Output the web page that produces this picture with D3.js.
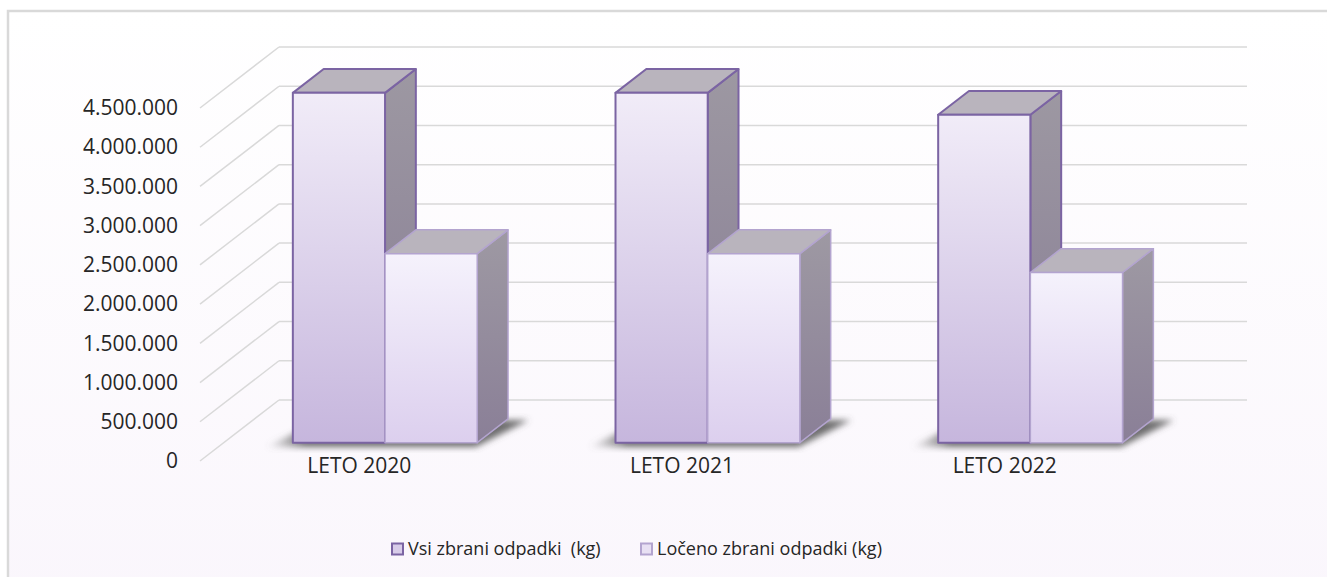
<!DOCTYPE html>
<html>
<head>
<meta charset="utf-8">
<script src="https://cdn.jsdelivr.net/npm/d3@7"></script>
<style>
  body { margin: 0; background: #fff; overflow: hidden; }
  svg { display: block; }
  svg text { font-family: "Open Sans", sans-serif; fill: #262626; }
</style>
</head>
<body>
<script>
// data
var categories = ["LETO 2020", "LETO 2021", "LETO 2022"];
var seriesNames = ["Vsi zbrani odpadki  (kg)", "Ločeno zbrani odpadki (kg)"];
var vsiValues = [4460000, 4460000, 4180000];
var locenoValues = [2410000, 2410000, 2170000];
var yTicks = [0, 500000, 1000000, 1500000, 2000000, 2500000, 3000000, 3500000, 4000000, 4500000];

var width = 1327, height = 577;

// oblique 3d: depth vector of the whole floor
var DX = 79, DY = -61;
var d0 = 0.3, d1 = 0.69; // bar depth inside the floor

var svg = d3.select("body").append("svg")
    .attr("width", width)
    .attr("height", height);

var defs = svg.append("defs");

function vGrad(id, top, bottom) {
  var g = defs.append("linearGradient").attr("id", id)
      .attr("x1", 0).attr("y1", 0).attr("x2", 0).attr("y2", 1);
  g.append("stop").attr("offset", 0).attr("stop-color", top);
  g.append("stop").attr("offset", 1).attr("stop-color", bottom);
}
vGrad("bg", "#ffffff", "#faf6fc");
vGrad("front0", "#f1ecf8", "#c6b6dd");
vGrad("front1", "#f5f2fc", "#dccfee");
vGrad("side0", "#9d98a2", "#867b94");
vGrad("side1", "#9e99a3", "#8a7f97");

var sg = defs.append("linearGradient").attr("id", "shadowGrad")
    .attr("x1", 0).attr("y1", 0).attr("x2", 1).attr("y2", 0);
sg.append("stop").attr("offset", 0).attr("stop-color", "#777").attr("stop-opacity", 0);
sg.append("stop").attr("offset", 0.15).attr("stop-color", "#555").attr("stop-opacity", 0.85);
sg.append("stop").attr("offset", 1).attr("stop-color", "#555").attr("stop-opacity", 0.85);

defs.append("filter").attr("id", "blur")
    .attr("x", "-20%").attr("y", "-20%").attr("width", "140%").attr("height", "140%")
  .append("feGaussianBlur").attr("stdDeviation", 3);

// chart area
svg.append("rect")
    .attr("x", 8).attr("y", 11)
    .attr("width", 1340).attr("height", 600)
    .attr("fill", "url(#bg)")
    .attr("stroke", "#d9d9d9")
    .attr("stroke-width", 2.5);

var yScale = d3.scaleLinear()
    .domain([0, 4500000])
    .range([461, 108]);

var xScale = d3.scaleBand()
    .domain(categories)
    .range([200, 1168]);

var inner = d3.scaleBand()
    .domain([0, 1])
    .range([0, xScale.bandwidth()])
    .paddingInner(0)
    .paddingOuter(0.75);

function P(x, v, d) {
  return [x + d * DX, yScale(v) + d * DY];
}

var line = d3.line();

// gridlines: side wall diagonals + back wall
var grid = svg.append("g").attr("stroke", "#d9d9d9").attr("stroke-width", 1.5).attr("fill", "none");
grid.selectAll(".diag")
    .data(yTicks)
    .enter().append("path")
    .attr("d", function(t) { return line([P(200, t, 0), P(200, t, 1)]); });
grid.selectAll(".back")
    .data(yTicks)
    .enter().append("path")
    .attr("d", function(t) { return line([P(200, t, 1), P(1168, t, 1)]); });

// y labels
var fmt = d3.formatLocale({ decimal: ",", thousands: ".", grouping: [3], currency: ["", ""] }).format(",");
var yAxis = d3.axisLeft(yScale)
    .tickValues(yTicks)
    .tickSize(0)
    .tickPadding(22)
    .tickFormat(fmt);
svg.append("g")
    .attr("transform", "translate(200,0)")
    .call(yAxis)
    .call(function(g) { g.select(".domain").remove(); })
    .selectAll("text")
    .style("font-family", "'Open Sans', sans-serif")
    .style("font-size", "21px")
    .attr("fill", "#262626");

// bars
var series = [vsiValues, locenoValues];
var strokes = ["#7b64a3", "#b3a4cf"];
var strokeW = [2, 1.5];

categories.forEach(function(cat, i) {
  var gx0 = xScale(cat) + inner(0);
  var gx1 = xScale(cat) + inner(1) + inner.bandwidth();

  // floor shadow
  svg.append("path")
      .attr("d", line([P(gx0 - 22, 0, d0 - 0.07), P(gx1 + 4, 0, d0 - 0.07),
                       P(gx1 + 22, 0, d1 - 0.02), P(gx0, 0, d1)]) + "Z")
      .attr("fill", "url(#shadowGrad)")
      .attr("filter", "url(#blur)");

  series.forEach(function(vals, j) {
    var v = vals[i];
    var x0 = xScale(cat) + inner(j);
    var x1 = x0 + inner.bandwidth();
    var g = svg.append("g")
        .attr("stroke", strokes[j])
        .attr("stroke-width", strokeW[j])
        .attr("stroke-linejoin", "round");
    g.append("path")
        .attr("d", line([P(x1, v, d0), P(x1, v, d1), P(x1, 0, d1), P(x1, 0, d0)]) + "Z")
        .attr("fill", "url(#side" + j + ")");
    g.append("path")
        .attr("d", line([P(x0, v, d0), P(x1, v, d0), P(x1, v, d1), P(x0, v, d1)]) + "Z")
        .attr("fill", "#b9b4bd");
    g.append("path")
        .attr("d", line([P(x0, v, d0), P(x1, v, d0), P(x1, 0, d0), P(x0, 0, d0)]) + "Z")
        .attr("fill", "url(#front" + j + ")");
  });
});

// category labels
svg.append("g")
    .selectAll("text")
    .data(categories)
    .enter().append("text")
    .attr("x", function(d) { return xScale(d) + xScale.bandwidth() / 2 - 2; })
    .attr("y", 466)
    .attr("dy", "0.35em")
    .attr("text-anchor", "middle")
    .style("font-size", "21px")
    .text(function(d) { return d; });

// legend
var legendX = [392, 641];
var legend = svg.append("g").attr("id", "legend");
var items = legend.selectAll("g")
    .data(seriesNames)
    .enter().append("g")
    .attr("transform", function(d, i) { return "translate(" + legendX[i] + ",549)"; });
items.append("rect")
    .attr("x", 0).attr("y", -5.5)
    .attr("width", 11).attr("height", 11)
    .attr("fill", function(d, i) { return i === 0 ? "#d8cce9" : "#e8e0f3"; })
    .attr("stroke", function(d, i) { return strokes[i]; })
    .attr("stroke-width", 2);
items.append("text")
    .attr("x", 16)
    .attr("dy", "0.35em")
    .style("font-size", "18px")
    .style("white-space", "pre")
    .text(function(d) { return d; });
</script>
</body>
</html>
